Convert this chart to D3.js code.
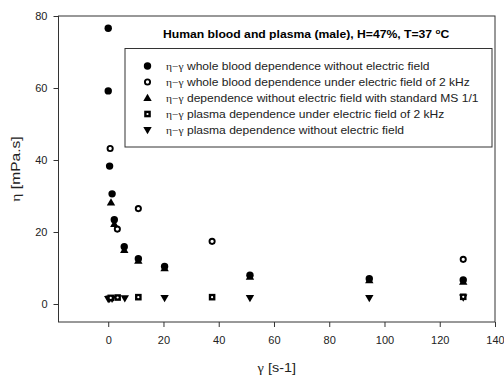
<!DOCTYPE html>
<html>
<head>
<meta charset="utf-8">
<script src="https://cdn.jsdelivr.net/npm/d3@7"></script>
<style>
  body { margin: 0; background: #fff; }
  svg { display: block; font-family: "Liberation Sans", Arial, sans-serif; }
</style>
</head>
<body>
<div id="chart"></div>
<script>
// whole blood, no field (filled circles)
const wbNoFieldX = [0, 0, 0.5, 1.4, 2.2, 5.8, 10.9, 20.4, 51.3, 94.5, 128.5];
const wbNoFieldY = [76.6, 59.2, 38.3, 30.6, 23.4, 15.9, 12.6, 10.4, 8.0, 7.0, 6.7];
// whole blood, 2 kHz field (open circles)
const wbFieldX = [0.7, 3.3, 10.9, 37.6, 128.5];
const wbFieldY = [43.2, 20.8, 26.5, 17.4, 12.4];
// standard MS 1/1 (triangles up)
const msX = [1.0, 2.2, 5.8, 10.9, 20.4, 51.3, 94.5, 128.5];
const msY = [28.2, 22.2, 15.0, 12.0, 9.9, 7.6, 6.6, 6.2];
// plasma, 2 kHz field (squares)
const plFieldX = [0.9, 3.4, 10.9, 37.6, 128.5];
const plFieldY = [1.7, 1.8, 1.9, 1.9, 2.0];
// plasma, no field (triangles down)
const plNoFieldX = [0, 0.5, 1.4, 6.0, 20.4, 51.3, 94.5, 128.5];
const plNoFieldY = [1.4, 1.5, 1.5, 1.6, 1.7, 1.7, 1.7, 1.8];

const xTicks = [0, 20, 40, 60, 80, 100, 120, 140];
const yTicks = [0, 20, 40, 60, 80];

const legendLabels = [
    "whole blood dependence without electric field",
    "whole blood dependence under electric field of 2 kHz",
    "dependence without electric field with standard MS 1/1",
    "plasma dependence under electric field of 2 kHz",
    "plasma dependence without electric field"
];

const W = 504, H = 376;
const margin = { top: 16, right: 9, bottom: 54, left: 58.5 };
const width = W - margin.left - margin.right,
      height = H - margin.top - margin.bottom;
const AXIS = "#333";
const STRETCH = 1.15; // text in the original is drawn a bit wide

const svg = d3.select("#chart").append("svg")
    .attr("width", W).attr("height", H);
const g = svg.append("g")
    .attr("transform", "translate(" + margin.left + "," + margin.top + ")");

const x = d3.scaleLinear().domain([-18, 140]).range([0, width]);
const y = d3.scaleLinear().domain([-5, 80]).range([height, 0]);

// frame
g.append("rect")
    .attr("width", width).attr("height", height)
    .attr("fill", "none").attr("stroke", AXIS).attr("stroke-width", 1);

const xAxis = g.append("g")
    .attr("transform", "translate(0," + height + ")")
    .call(d3.axisBottom(x).tickValues(xTicks).tickSize(5).tickPadding(9));
const yAxis = g.append("g")
    .call(d3.axisLeft(y).tickValues(yTicks).tickSize(5).tickPadding(6));
[xAxis, yAxis].forEach(function (a) {
    a.select(".domain").remove();
    a.selectAll("line").attr("stroke", AXIS);
    a.selectAll("text").attr("fill", "#222")
        .style("font-family", "Liberation Sans, Arial, sans-serif")
        .style("font-size", "11px");
});

// axis labels
svg.append("text")
    .attr("transform", "translate(" + (margin.left + width / 2) + ",372) scale(1.2,1)")
    .attr("text-anchor", "middle").attr("fill", "#222")
    .style("font-size", "12px")
    .html('<tspan font-family="Liberation Serif, serif">γ</tspan> [s-1]');
svg.append("text")
    .attr("transform", "translate(20," + (margin.top + height / 2) + ") rotate(-90) scale(1.3,1)")
    .attr("text-anchor", "middle").attr("fill", "#222")
    .style("font-size", "12px")
    .html('<tspan font-family="Liberation Serif, serif">η</tspan> [mPa.s]');

// marker drawing
function marker(sel, kind) {
    if (kind === "fcirc") {
        sel.append("circle").attr("r", 3.7).attr("fill", "#000");
    } else if (kind === "ocirc") {
        sel.append("circle").attr("r", 2.6).attr("fill", "#fff")
            .attr("stroke", "#000").attr("stroke-width", 1.9);
    } else if (kind === "tup") {
        sel.append("path").attr("d", "M0,-4.3L4.2,3L-4.2,3Z").attr("fill", "#000");
    } else if (kind === "tdown") {
        sel.append("path").attr("d", "M0,4.3L4.2,-3L-4.2,-3Z").attr("fill", "#000");
    } else if (kind === "sq") {
        sel.append("rect").attr("x", -3.3).attr("y", -3.3)
            .attr("width", 6.6).attr("height", 6.6).attr("fill", "#000");
        sel.append("circle").attr("r", 1.1).attr("fill", "#fff");
    }
}

const series = [
    { xs: plNoFieldX, ys: plNoFieldY, kind: "tdown" },
    { xs: plFieldX, ys: plFieldY, kind: "sq" },
    { xs: msX, ys: msY, kind: "tup" },
    { xs: wbFieldX, ys: wbFieldY, kind: "ocirc" },
    { xs: wbNoFieldX, ys: wbNoFieldY, kind: "fcirc" }
];

series.forEach(function (s) {
    const pts = s.xs.map(function (v, i) { return [v, s.ys[i]]; });
    g.append("g").selectAll("g")
        .data(pts).enter().append("g")
        .attr("transform", function (d) { return "translate(" + x(d[0]) + "," + y(d[1]) + ")"; })
        .each(function () { marker(d3.select(this), s.kind); });
});

// title
svg.append("text")
    .attr("transform", "translate(163,37.5) scale(1.16,1)")
    .attr("fill", "#000").style("font-size", "10.5px").style("font-weight", "bold")
    .html('Human blood and plasma (male), H=47%, T=37 <tspan dy="-4" font-size="7px">o</tspan><tspan dy="4">C</tspan>');

// legend
const legend = svg.append("g");
legend.append("rect")
    .attr("x", 125).attr("y", 48.5).attr("width", 367).attr("height", 98.5)
    .attr("fill", "#fff").attr("stroke", AXIS).attr("stroke-width", 1);
const kinds = ["fcirc", "ocirc", "tup", "sq", "tdown"];
legendLabels.forEach(function (lab, i) {
    const yy = 66 + i * 16;
    const m = legend.append("g").attr("transform", "translate(147.5," + yy + ")");
    marker(m, kinds[i]);
    legend.append("text")
        .attr("transform", "translate(166," + (yy + 4) + ") scale(" + STRETCH + ",1)")
        .attr("fill", "#222").style("font-size", "10.5px")
        .html('<tspan font-family="Liberation Serif, serif" font-size="10px">η−γ</tspan> ' + lab);
});
</script>
</body>
</html>
